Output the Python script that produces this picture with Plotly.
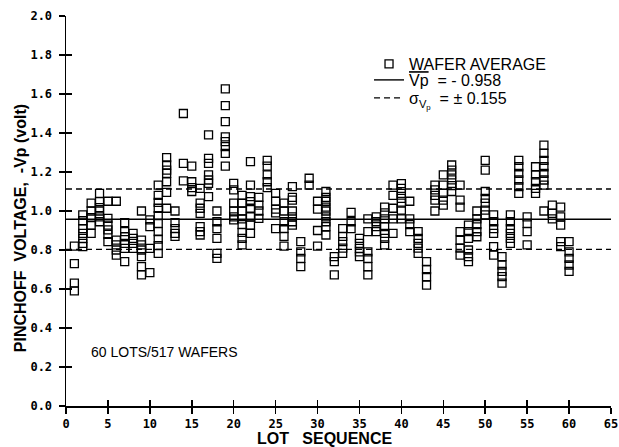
import plotly.graph_objects as go

# Wafer-average pinchoff voltage (-Vp, volt) for each lot, lot 1..60
wafer_vp_by_lot = [
    [0.82, 0.73, 0.63, 0.59],                                   # 1
    [0.98, 0.95, 0.91, 0.885, 0.86, 0.834, 0.817],              # 2
    [1.04, 1.0, 0.966, 0.928, 0.885],                           # 3
    [1.09, 1.048, 1.017, 1.0, 0.97, 0.945],                     # 4
    [1.05, 0.962, 0.928, 0.903, 0.88, 0.843],                   # 5
    [1.05, 0.851, 0.826, 0.80, 0.774],                          # 6
    [0.94, 0.894, 0.868, 0.834, 0.808, 0.74],                   # 7
    [0.885, 0.86, 0.834, 0.808],                                # 8
    [1.0, 0.851, 0.826, 0.80, 0.766, 0.715, 0.672],             # 9
    [0.954, 0.92, 0.808, 0.684],                                # 10
    [1.133, 1.08, 1.044, 1.014, 0.976, 0.937, 0.894, 0.856, 0.822, 0.783],  # 11
    [1.274, 1.236, 1.21, 1.193, 1.15, 1.096, 1.014],            # 12
    [1.0, 0.94, 0.91, 0.885, 0.87],                             # 13
    [1.50, 1.244, 1.154],                                       # 14
    [1.23, 1.15, 1.12, 1.10],                                   # 15
    [1.116, 1.04, 1.014, 0.988, 0.92, 0.894, 0.877],            # 16
    [1.39, 1.27, 1.244, 1.185, 1.159, 1.142, 1.074],            # 17
    [1.0, 0.945, 0.91, 0.86, 0.783, 0.757],                     # 18
    [1.626, 1.54, 1.458, 1.38, 1.356, 1.33, 1.296, 1.23],       # 19
    [1.142, 1.108, 1.04, 1.0, 0.97, 0.954],                     # 20
    [1.08, 1.04, 1.0, 0.96, 0.93, 0.89, 0.86, 0.826],           # 21
    [1.253, 1.133, 1.074, 1.048, 1.014, 0.97, 0.928, 0.885],    # 22
    [1.07, 1.03, 1.0, 0.962],                                   # 23
    [1.26, 1.23, 1.185, 1.15, 1.12],                            # 24
    [1.09, 1.05, 1.01, 0.99, 0.91],                             # 25
    [1.04, 1.0, 0.945, 0.91, 0.87, 0.82],                       # 26
    [1.125, 1.07, 1.056, 1.0, 0.97, 0.945, 0.928],              # 27
    [0.843, 0.79, 0.757, 0.715],                                # 28
    [1.168, 1.133],                                             # 29
    [1.05, 1.01, 0.90, 0.82],                                   # 30
    [1.10, 1.07, 1.05, 1.02, 1.0, 0.97, 0.945, 0.92, 0.877],    # 31
    [0.766, 0.74, 0.672],                                       # 32
    [0.91, 0.87, 0.843, 0.81, 0.783],                           # 33
    [0.993, 0.945, 0.91],                                       # 34
    [0.86, 0.834, 0.808, 0.79, 0.766],                          # 35
    [0.96, 0.894, 0.79, 0.757, 0.715, 0.672],                   # 36
    [0.97, 0.945, 0.92, 0.894],                                 # 37
    [1.02, 0.99, 0.96, 0.92, 0.885, 0.86, 0.826],               # 38
    [1.133, 1.08, 1.014, 0.96, 0.885],                          # 39
    [1.14, 1.116, 1.09, 1.065, 1.04, 1.005, 0.96],              # 40
    [1.05, 0.96, 0.93, 0.894],                                  # 41
    [0.894, 0.86, 0.834, 0.81, 0.783],                          # 42
    [0.74, 0.70, 0.663, 0.62],                                  # 43
    [1.133, 1.108, 1.08, 1.056, 1.0],                           # 44
    [1.185, 1.133, 1.09, 1.056, 1.03],                          # 45
    [1.236, 1.21, 1.185, 1.16, 1.13, 1.10],                     # 46
    [1.133, 1.056, 1.02, 0.894, 0.85, 0.81, 0.774],             # 47
    [0.928, 0.894, 0.86, 0.80, 0.766, 0.74],                    # 48
    [1.0, 0.96, 0.93, 0.894, 0.868],                            # 49
    [1.26, 1.21, 1.10, 1.065, 1.04, 1.005, 0.98],               # 50
    [0.98, 0.945, 0.91, 0.885, 0.817, 0.774],                   # 51
    [0.766, 0.723, 0.69, 0.663, 0.63],                          # 52
    [0.98, 0.945, 0.91, 0.885, 0.86, 0.834],                    # 53
    [1.26, 1.227, 1.193, 1.159, 1.125, 1.09],                   # 54
    [0.97, 0.937, 0.894, 0.826],                                # 55
    [1.227, 1.185, 1.15, 1.116, 1.09],                          # 56
    [1.338, 1.296, 1.26, 1.227, 1.193, 1.159, 1.133, 1.0],      # 57
    [1.03, 0.988, 0.96],                                        # 58
    [1.02, 0.97, 0.928, 0.843, 0.817],                          # 59
    [0.843, 0.79, 0.757, 0.723, 0.69],                          # 60
]

MEAN_VP = 0.958
SIGMA_VP = 0.155

x_ticks = [0, 5, 10, 15, 20, 25, 30, 35, 40, 45, 50, 55, 60, 65]
y_ticks = [0.0, 0.2, 0.4, 0.6, 0.8, 1.0, 1.2, 1.4, 1.6, 1.8, 2.0]
X_RANGE = [0, 65]
Y_RANGE = [0, 2.0]

lot_x = []
vp_y = []
for i, vals in enumerate(wafer_vp_by_lot, start=1):
    for v in vals:
        lot_x.append(i)
        vp_y.append(v)

NB = "\u00a0"
TICK_FONT = dict(family="DejaVu Sans Mono", size=12, color="black", weight="bold")
TEXT_FONT = "Liberation Sans, Arial, sans-serif"

fig = go.Figure()

fig.add_trace(go.Scatter(
    x=lot_x, y=vp_y, mode="markers", name="WAFER AVERAGE", legend="legend",
    marker=dict(symbol="square-open", size=8, color="black",
                line=dict(width=1.3, color="black")),
))

fig.add_trace(go.Scatter(
    x=X_RANGE, y=[MEAN_VP, MEAN_VP], mode="lines", legend="legend2",
    name="<span style='text-decoration:overline'>Vp</span>" + NB + NB + "= - 0.958",
    line=dict(color="black", width=1.4),
))

fig.add_trace(go.Scatter(
    x=X_RANGE + [None] + X_RANGE,
    y=[MEAN_VP + SIGMA_VP] * 2 + [None] + [MEAN_VP - SIGMA_VP] * 2,
    mode="lines", legend="legend3",
    name="σ<sub>V<sub>p</sub></sub>" + NB + NB + "= ± 0.155",
    line=dict(color="black", width=1.4, dash="6px,4px"),
    xaxis="x2", yaxis="y2",
))

axis_common = dict(showgrid=False, zeroline=False, showline=True,
                   linecolor="black", linewidth=1.5,
                   tickcolor="black", tickwidth=1.5, fixedrange=True,
                   automargin=False)

LEG_X = 0.556
leg_common = dict(x=LEG_X, xanchor="left", yanchor="top",
                  bgcolor="rgba(0,0,0,0)", borderwidth=0,
                  font=dict(family=TEXT_FONT, size=16, color="black"),
                  itemwidth=30)

fig.update_layout(
    template="none",
    width=619, height=447,
    margin=dict(l=66, r=8, t=16, b=41, pad=0),
    paper_bgcolor="white", plot_bgcolor="white",
    font=dict(family=TEXT_FONT, color="black"),
    showlegend=True,
    legend=dict(y=0.9205, **leg_common),
    legend2=dict(y=0.8795, **leg_common),
    legend3=dict(y=0.8333, **leg_common),
    xaxis=dict(range=X_RANGE, tickvals=x_ticks, ticktext=[str(t) for t in x_ticks],
               ticks="outside", ticklen=6, tickfont=TICK_FONT, **axis_common),
    yaxis=dict(range=Y_RANGE, tickvals=y_ticks, ticktext=[f"{t:.1f}" for t in y_ticks],
               ticks="outside", ticklen=6, tickfont=TICK_FONT,
               ticklabelstandoff=4, **axis_common),
    xaxis2=dict(range=X_RANGE, tickvals=x_ticks, overlaying="x", anchor="y2",
                side="bottom", ticks="inside", ticklen=6, showticklabels=False,
                **axis_common),
    yaxis2=dict(range=Y_RANGE, tickvals=y_ticks, overlaying="y", anchor="x2",
                side="left", ticks="inside", ticklen=6, showticklabels=False,
                **axis_common),
)

fig.add_annotation(text="<b>PINCHOFF" + NB * 2 + "VOLTAGE," + NB * 2 + "-Vp (volt)</b>",
                   textangle=-90,
                   xref="paper", yref="paper", x=-0.0844, y=0.456,
                   xanchor="center", yanchor="middle", showarrow=False,
                   font=dict(family=TEXT_FONT, size=16, color="black"))
fig.add_annotation(text="<b>LOT" + NB * 3 + "SEQUENCE</b>",
                   xref="paper", yref="paper", x=0.475, y=-0.083,
                   xanchor="center", yanchor="middle", showarrow=False,
                   font=dict(family=TEXT_FONT, size=16, color="black"))
fig.add_annotation(text="60 LOTS/517 WAFERS",
                   xref="x", yref="y", x=2.8, y=0.277,
                   xanchor="left", yanchor="middle", showarrow=False,
                   font=dict(family=TEXT_FONT, size=14, color="black"))

fig.write_html(
    "out.html",
    config={"displayModeBar": False, "staticPlot": True},
    post_script="document.body.style.margin='0';document.body.style.overflow='hidden';",
)
